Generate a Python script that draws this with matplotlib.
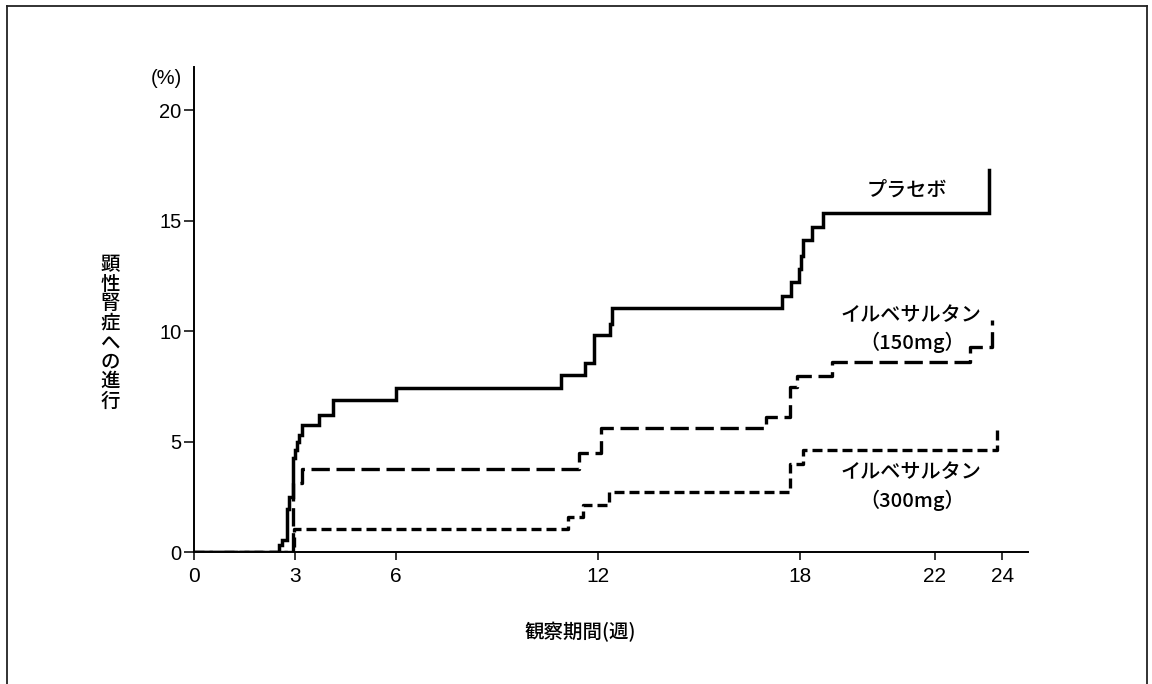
import matplotlib
matplotlib.use("Agg")
import matplotlib.pyplot as plt
from matplotlib.lines import Line2D

# values (weeks, % progressed to overt nephropathy)
placebo_weeks = [0, 2.53, 2.62, 2.77, 2.83, 2.93, 3.00, 3.07, 3.12, 3.20, 3.72, 4.14,
                 6.00, 10.90, 11.60, 11.88, 12.36, 12.41, 17.45, 17.72, 17.98, 18.03,
                 18.10, 18.35, 18.67, 23.62]
placebo_pct = [0, 0.30, 0.53, 1.95, 2.50, 4.26, 4.60, 5.00, 5.30, 5.75, 6.18, 6.86,
               7.40, 8.00, 8.55, 9.80, 10.30, 11.03, 11.60, 12.20, 12.80, 13.40,
               14.10, 14.70, 15.33, 17.30]

irb150_weeks = [0, 2.95, 3.22, 11.42, 12.10, 17.00, 17.70, 17.90, 18.94, 23.05, 23.70]
irb150_pct = [0, 3.12, 3.75, 4.48, 5.60, 6.10, 7.45, 7.95, 8.60, 9.30, 10.50]

irb300_weeks = [0, 2.97, 11.12, 11.55, 12.33, 17.70, 18.10, 23.84]
irb300_pct = [0, 1.05, 1.60, 2.13, 2.73, 4.00, 4.62, 5.60]

x_ticks = [0, 3, 6, 12, 18, 22, 24]
y_ticks = [0, 5, 10, 15, 20]

W, H = 1152, 684
JP = ["Noto Sans CJK JP", "DejaVu Sans"]
LAT = ["Liberation Sans", "DejaVu Sans"]


def px(x, y):  # pixel position -> figure fraction
    return x / W, 1 - y / H


fig = plt.figure(figsize=(W / 100, H / 100), dpi=100)
fig.patch.set_facecolor("white")

# frame round the figure (open at the bottom)
for xs, ys in [((7, 7), (684, 6)), ((7, 1147), (6, 6)), ((1147, 1147), (6, 684))]:
    fx = [x / W for x in xs]
    fy = [1 - y / H for y in ys]
    fig.add_artist(Line2D(fx, fy, color="#222222", lw=1.3, transform=fig.transFigure))

ax = fig.add_axes([194 / W, 1 - 552 / H, (1028 - 194) / W, (552 - 67) / H])
ax.set_xlim(0, 24.77)
ax.set_ylim(0, 21.95)

ax.plot(placebo_weeks, placebo_pct, drawstyle="steps-post", color="black", lw=2.5,
        solid_joinstyle="miter")
ax.plot(irb150_weeks, irb150_pct, drawstyle="steps-post", color="black", lw=2.4,
        linestyle=(0, (5.5, 2.0)))
ax.plot(irb300_weeks, irb300_pct, drawstyle="steps-post", color="black", lw=2.4,
        linestyle=(0, (3.0, 1.5)))

for s in ["top", "right"]:
    ax.spines[s].set_visible(False)
for s in ["left", "bottom"]:
    ax.spines[s].set_linewidth(1.4)

ax.set_xticks(x_ticks)
ax.set_yticks(y_ticks)
ax.tick_params(axis="y", direction="out", length=7, width=1.1, pad=2)
ax.tick_params(axis="x", direction="out", length=6, width=1.1, pad=5)
for lab in ax.get_yticklabels():
    lab.set_fontfamily(LAT)
    lab.set_fontsize(14.5)
for lab in ax.get_xticklabels():
    lab.set_fontfamily(["Liberation Sans Narrow"] + LAT)
    lab.set_fontsize(15)

# curve labels
labels = [
    (907, 190, "プラセボ"),
    (911, 316, "イルベサルタン"),
    (912, 342, "（150mg）"),
    (911, 473, "イルベサルタン"),
    (912, 500, "（300mg）"),
]
for x, y, t in labels:
    fig.text(*px(x, y), t, family=JP, fontsize=14.5, weight="medium",
             ha="center", va="center")

# axis titles
fig.text(*px(166, 79), "(%)", family=LAT, fontsize=14.5, ha="center", va="center")
fig.text(*px(110, 333), "\n".join("顕性腎症への進行"), family=JP, fontsize=14,
         weight="medium", ha="center", va="center", linespacing=1.03)
fig.text(*px(580, 632), "観察期間(週)", family=JP, fontsize=14, weight="medium",
         ha="center", va="center")

fig.savefig("out.png", dpi=100)
